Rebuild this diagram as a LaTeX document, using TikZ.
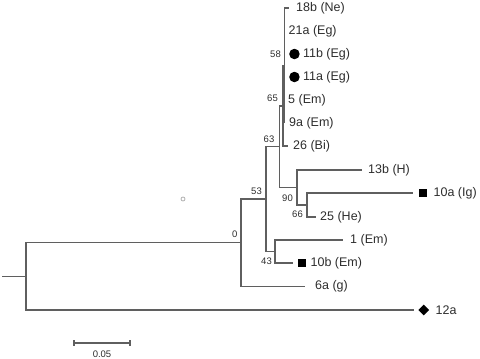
\documentclass[tikz,border=0pt]{standalone}
\usepackage{fontspec}
\setmainfont{Liberation Sans}
\usetikzlibrary{positioning,shapes.geometric,calc}
\definecolor{branch}{RGB}{95,95,95}
\definecolor{txt}{RGB}{45,45,45}

\begin{document}
\begin{tikzpicture}[x=1pt,y=-1pt,
  edge/.style={draw=branch, line width=1.2pt},
  taxon/.style={inner sep=0pt, text=txt, font=\fontsize{12.5}{14}\selectfont},
  boot/.style={inner sep=0pt, anchor=east, text=txt, font=\fontsize{9.5}{11}\selectfont},
  dotmark/.style={circle, fill=black, minimum size=10.5pt, inner sep=0pt},
  boxmark/.style={rectangle, fill=black, minimum size=8pt, inner sep=0pt},
  diamark/.style={diamond, fill=black, minimum size=11pt, inner sep=0pt}]
\useasboundingbox (0,0) rectangle (480,359);

% internal nodes
\coordinate (stub) at (2,276.4);
\coordinate (nroot) at (26,276.4);
\coordinate (nA) at (241,242.8);
\coordinate (nB) at (266,199);
\coordinate (n43) at (275,251.5);
\coordinate (n63) at (279.5,146.6);
\coordinate (n65) at (283,106);
\coordinate (n58) at (284.5,65.5);
\coordinate (n90) at (297,187.5);
\coordinate (n66) at (307,205);

% branch tips
\coordinate (l18b) at (289,8);
\coordinate (l21a) at (284.5,31);
\coordinate (l11b) at (284.5,54);
\coordinate (l11a) at (284.5,77);
\coordinate (l5) at (284.5,100);
\coordinate (l9a) at (284.5,123);
\coordinate (l26) at (288,146);
\coordinate (l13b) at (362,170);
\coordinate (l10a) at (413,193);
\coordinate (l25) at (316,217);
\coordinate (l1) at (343,240);
\coordinate (l10b) at (293,263);
\coordinate (l6a) at (305,286.5);
\coordinate (l12a) at (414,310);

% branches
\draw[edge] (stub) -- (nroot);
\foreach \p/\c in {nroot/nA, nroot/l12a, nA/nB, nA/l6a, nB/n63, nB/n43,
  n43/l1, n43/l10b, n63/n65, n63/n90, n65/n58, n65/l26,
  n58/l18b, n58/l21a, n58/l11b, n58/l11a, n58/l5, n58/l9a,
  n90/l13b, n90/n66, n66/l10a, n66/l25}
  \draw[edge] (\p) |- (\c);

% taxa
\node[taxon, right=7pt of l18b] (t18b) {18b (Ne)};
\node[taxon, right=4pt of l21a] (t21a) {21a (Eg)};
\node[dotmark, right=4.5pt of l11b] (m11b) {};
\node[taxon, right=3pt of m11b] (t11b) {11b (Eg)};
\node[dotmark, right=4.5pt of l11a] (m11a) {};
\node[taxon, right=3pt of m11a] (t11a) {11a (Eg)};
\node[taxon, right=3.5pt of l5] (t5) {5 (Em)};
\node[taxon, right=4.5pt of l9a] (t9a) {9a (Em)};
\node[taxon, right=5pt of l26] (t26) {26 (Bi)};
\node[taxon, right=6pt of l13b] (t13b) {13b (H)};
\node[boxmark, right=6pt of l10a] (m10a) {};
\node[taxon, right=6pt of m10a] (t10a) {10a (Ig)};
\node[taxon, right=4pt of l25] (t25) {25 (He)};
\node[taxon, right=7pt of l1] (t1) {1 (Em)};
\node[boxmark, right=5pt of l10b] (m10b) {};
\node[taxon, right=4pt of m10b] (t10b) {10b (Em)};
\node[taxon, right=10pt of l6a] (t6a) {6a (g)};
\node[diamark, right=4pt of l12a] (m12a) {};
\node[taxon, right=6pt of m12a] (t12a) {12a};

% support values
\node[boot] (b0) at ([xshift=-3.5pt,yshift=8.8pt]nA) {0};
\node[boot] (b53) at ([xshift=-4pt,yshift=8pt]nB) {53};
\node[boot] (b58) at ([xshift=-3.5pt,yshift=11.5pt]n58) {58};
\node[boot] (b65) at ([xshift=-5pt,yshift=8pt]n65) {65};
\node[boot] (b63) at ([xshift=-5pt,yshift=7.5pt]n63) {63};
\node[boot] (b90) at ([xshift=-4pt,yshift=-10.5pt]n90) {90};
\node[boot] (b66) at ([xshift=-4pt,yshift=-9pt]n66) {66};
\node[boot] (b43) at ([xshift=-3pt,yshift=-9.5pt]n43) {43};

% stray mark
\draw[branch!50, line width=0.8pt] (183,199) circle (2pt);

% scale bar
\coordinate (sbL) at (74,343);
\coordinate (sbR) at (130,343);
\draw[edge] (sbL) -- (sbR);
\draw[edge] ([yshift=3pt]sbL) -- ([yshift=-3pt]sbL);
\draw[edge] ([yshift=3pt]sbR) -- ([yshift=-3pt]sbR);
\node[boot, anchor=center] (sblab) at ([yshift=-11pt]$(sbL)!0.5!(sbR)$) {0.05};
\end{tikzpicture}
\end{document}
